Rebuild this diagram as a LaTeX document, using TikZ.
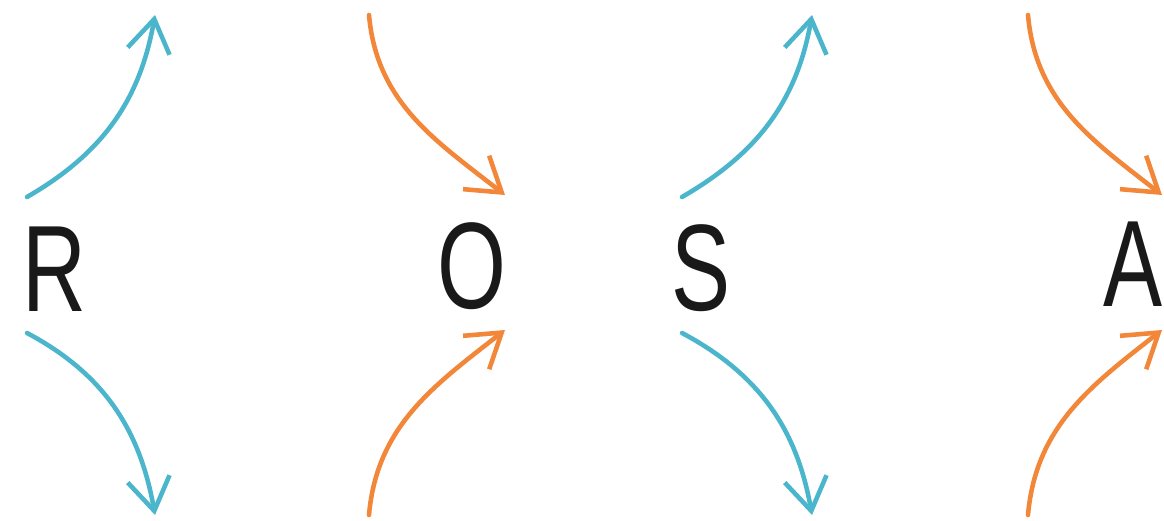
\documentclass[tikz,border=0pt]{standalone}
\usepackage{fontspec}
\setmainfont[FakeStretch=0.72]{Liberation Sans}
\usepackage{xcolor}
\usetikzlibrary{arrows.meta, positioning}

\definecolor{rosateal}{HTML}{4BB5CC}
\definecolor{rosaorange}{HTML}{F2873A}

\begin{document}
\begin{tikzpicture}[
        x=0.02cm, y=0.02cm,
        letter/.style={
            inner sep=0pt,
            text=black!90,
            font=\fontsize{70}{70}\selectfont
        },
        arrow/.style={-{Straight Barb[length=6.5mm, width=8.5mm]}, line width=2.6pt, line cap=round, line join=round},
        tealarrow/.style={arrow, rosateal},
        orangearrow/.style={arrow, rosaorange}
    ]
        \useasboundingbox (0,0) rectangle (1164,521);

        \node[letter] (r) at (54,252) {R};
        \node[letter] (o) at (472,255) {O};
        \node[letter] (s) at (701,253) {S};
        \node[letter] (a) at (1133,257) {A};

        % ends of the arrows
        \coordinate (r-in-top) at (27,324);
        \coordinate (r-in-bot) at (27,188);
        \coordinate (r-out-top) at (155,506);
        \coordinate (r-out-bot) at (155,6);
        \coordinate (o-in-top) at (369,506);
        \coordinate (o-in-bot) at (369,6);
        \coordinate (o-out-top) at (505,326);
        \coordinate (o-out-bot) at (505,191);
        \coordinate (s-in-top) at (682,324);
        \coordinate (s-in-bot) at (682,188);
        \coordinate (s-out-top) at (812,506);
        \coordinate (s-out-bot) at (812,6);
        \coordinate (a-in-top) at (1028,506);
        \coordinate (a-in-bot) at (1028,6);
        \coordinate (a-out-top) at (1162,326);
        \coordinate (a-out-bot) at (1162,191);

        \draw[tealarrow] (r-in-top) to[out=30, in=-100] (r-out-top);
        \draw[tealarrow] (r-in-bot) to[out=-28, in=100] (r-out-bot);
        \draw[orangearrow] (o-in-top) to[out=-85, in=142] (o-out-top);
        \draw[orangearrow] (o-in-bot) to[out=85, in=-142] (o-out-bot);
        \draw[tealarrow] (s-in-top) to[out=30, in=-100] (s-out-top);
        \draw[tealarrow] (s-in-bot) to[out=-28, in=100] (s-out-bot);
        \draw[orangearrow] (a-in-top) to[out=-85, in=142] (a-out-top);
        \draw[orangearrow] (a-in-bot) to[out=85, in=-142] (a-out-bot);
    \end{tikzpicture}
\end{document}
